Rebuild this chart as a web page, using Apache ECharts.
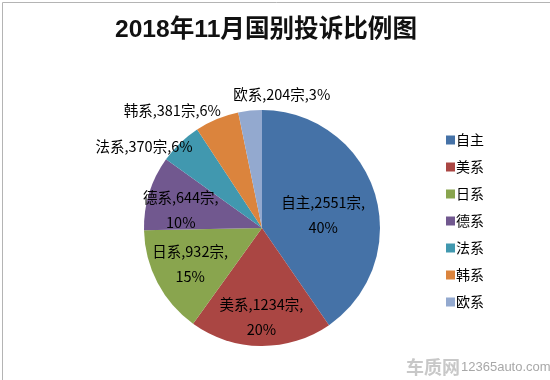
<!DOCTYPE html>
<html><head><meta charset="utf-8">
<script src="https://cdn.jsdelivr.net/npm/echarts@6/dist/echarts.min.js"></script>
<style>html,body{margin:0;padding:0;background:#fff}#c{width:550px;height:380px}</style>
</head><body><div id="c"></div>
<script>
const titleText = '2018年11月国别投诉比例图';
const categories = ['自主','美系','日系','德系','法系','韩系','欧系'];
const counts = [2551,1234,932,644,370,381,204];
const percents = ['40%','20%','15%','10%','6%','6%','3%'];
const colors = ['#4572A7','#AA4643','#89A54E','#71588F','#4198AF','#DB843D','#93A9CF'];

// label shifts from default inner position (style only)
const labelShift = [[2,5],[0,27],[-17,7],[-22,0],[-75,-37],[-66,-60],[26,-72]];
const twoLine = [true,true,true,true,false,false,false];

const chart = echarts.init(document.getElementById('c'));
chart.setOption({
  animation:false,
  backgroundColor:'#fff',
  color: colors,
  title:{text:titleText,left:110,top:13,textStyle:{fontSize:24.6,fontWeight:'bold',color:'#111',fontFamily:'Liberation Sans, "Noto Sans CJK SC", sans-serif'}},
  legend:{orient:'vertical',left:441,top:128,itemWidth:9,itemHeight:9,itemGap:13,icon:'rect',
    textStyle:{fontSize:14,color:'#000',fontFamily:'"Noto Sans CJK SC", sans-serif',padding:[0,0,0,-4]},
    data:categories},
  graphic:[
    {type:'rect',left:0,top:0,shape:{width:549,height:379},style:{fill:'none',stroke:'#b4b4b4',lineWidth:1},silent:true},
    {type:'text',left:406,top:358,style:{text:'车质网',fill:'#c8c8c8',font:'bold 18px "Noto Sans CJK SC", sans-serif'},silent:true},
    {type:'text',left:461,top:361,style:{text:'12365auto.com',fill:'#a8a8a8',font:'13px "Liberation Sans", sans-serif'},silent:true}
  ],
  series:[{
    type:'pie',
    center:[262,228],
    radius:118,
    startAngle:90,
    clockwise:true,
    avoidLabelOverlap:false,
    itemStyle:{borderColor:'#fff',borderWidth:0},
    label:{show:true,position:'inside',color:'#000',fontSize:14.5,lineHeight:25,fontFamily:'"Noto Sans CJK SC", sans-serif',
      formatter:function(p){const i=p.dataIndex;return twoLine[i]?(p.name+','+counts[i]+'宗,\n'+percents[i]):(p.name+','+counts[i]+'宗,'+percents[i]);}},
    labelLine:{show:false},
    labelLayout:function(p){const s=labelShift[p.dataIndex];return {dx:s[0],dy:s[1]};},
    data:categories.map((n,i)=>({name:n,value:counts[i]}))
  }]
});
</script></body></html>
